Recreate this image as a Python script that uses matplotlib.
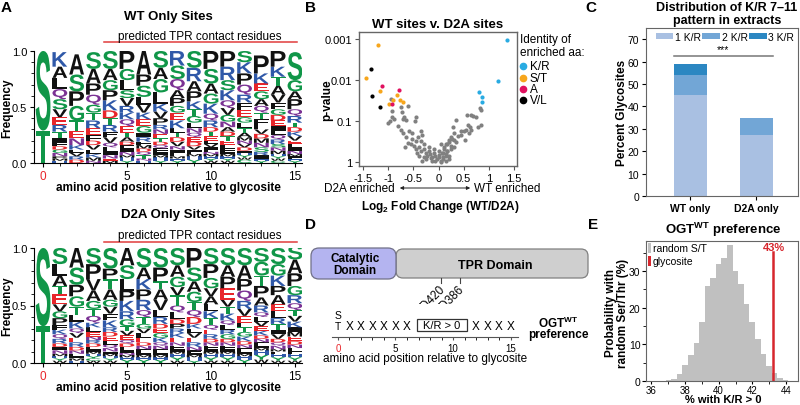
import numpy as np
import matplotlib
matplotlib.use('Agg')
import matplotlib.pyplot as plt
from matplotlib.textpath import TextPath
from matplotlib.font_manager import FontProperties
from matplotlib.patches import PathPatch, Rectangle, FancyBboxPatch, FancyArrowPatch
from matplotlib.transforms import Affine2D, blended_transform_factory
from matplotlib.lines import Line2D
from matplotlib.ticker import NullLocator, FixedLocator, MultipleLocator

plt.rcParams['font.family'] = ['Liberation Sans', 'DejaVu Sans']
plt.rcParams['mathtext.fontset'] = 'custom'
plt.rcParams['mathtext.rm'] = 'Liberation Sans'
plt.rcParams['mathtext.bf'] = 'Liberation Sans:bold'
plt.rcParams['axes.linewidth'] = 0.8

# ---------------- data ----------------
# sequence logos: letters listed top -> bottom with their frequencies
wt_letters = [
    "ST",
    "KALQSVERTIFDGNPMH",
    "ASPGTENKLVRD",
    "SAPQGTREFDVLKMN",
    "SAGPKDTRFVQLINEM",
    "PGLSVRKQETADFINMHY",
    "APSLVKEGIRFMDQTNH",
    "SAGLKVPRNETDQFIMHY",
    "RSQAPGEKLTDVNIFMHY",
    "SRAPKTGLNQEDVIFMHY",
    "PSAGKQRDTELVIFNMHYW",
    "PRSKQVGNADTELFIMHYW",
    "SKPQRFEGLTAMNVDIHYWC",
    "PKEGAQTFLVDMNSRIHY",
    "PKTAVFGDEILQRSNMHYWC",
    "SGAPQRTDKVELINMFHY",
]
wt_freqs = [
    [.71, .29],
    [.13, .10, .10, .09, .09, .07, .07, .06, .06, .04, .03, .03, .03, .03, .02, .02, .02],
    [.18, .15, .13, .13, .09, .07, .06, .04, .03, .03, .03, .03],
    [.15, .13, .10, .09, .07, .07, .07, .06, .05, .04, .04, .04, .03, .03, .02],
    [.16, .10, .09, .09, .09, .07, .06, .06, .05, .05, .04, .04, .03, .03, .02, .02],
    [.16, .10, .09, .07, .07, .06, .06, .06, .06, .04, .04, .03, .03, .03, .03, .02, .03, .02],
    [.21, .10, .10, .07, .07, .06, .06, .06, .04, .04, .03, .03, .03, .03, .03, .02, .02],
    [.15, .10, .12, .10, .07, .06, .06, .04, .04, .04, .03, .03, .03, .03, .03, .02, .03, .02],
    [.13, .12, .10, .07, .07, .06, .07, .07, .04, .04, .04, .04, .03, .03, .03, .02, .02, .02],
    [.15, .12, .09, .09, .07, .06, .06, .05, .04, .04, .04, .04, .03, .02, .02, .02, .03, .03],
    [.16, .13, .09, .09, .09, .06, .06, .04, .04, .04, .03, .03, .02, .02, .02, .02, .02, .02, .02],
    [.14, .12, .09, .09, .07, .06, .06, .05, .04, .04, .04, .04, .03, .03, .02, .02, .02, .02, .02],
    [.10, .10, .10, .09, .07, .07, .06, .05, .05, .04, .04, .03, .03, .03, .03, .02, .02, .02, .02, .03],
    [.16, .09, .07, .07, .06, .06, .06, .05, .04, .04, .04, .04, .04, .04, .03, .03, .02, .02],
    [.14, .09, .08, .08, .07, .06, .05, .05, .05, .04, .04, .04, .04, .03, .03, .03, .02, .02, .02, .02],
    [.25, .10, .07, .09, .06, .06, .04, .04, .04, .04, .03, .03, .03, .03, .02, .02, .02, .02],
]
d2a_letters = [
    "ST",
    "SLATEVGPFKQRDINMHYW",
    "ASPGTLKQVERDNFIMH",
    "SPVAGTQKLENRDFIMHYCW",
    "SPTAGVFKRDELQNIMHYW",
    "ASLPKRGTVEQDFINMHY",
    "SAKPRQTGVLEDNFIMHY",
    "SPTAVLRDEGKQNFIMHY",
    "SAGVTQLDPRKENFIMHYW",
    "PSAGTQDKLVERNFIMHY",
    "SPGVALKTQERDNFIMHYW",
    "SAPEVTKQLRGDNFIMHYW",
    "SAPQRVELTGKDNFIMHY",
    "SGTPARQLVEKDNFIMHYW",
    "SGKPAELRTIVDQNMFHYW",
    "SAPGRQTVKIMEDNLFHYW",
]
d2a_freqs = [
    [.68, .32],
    [.14, .10, .09, .07, .09, .06, .06, .06, .04, .04, .04, .04, .03, .03, .03, .02, .02, .02, .02],
    [.17, .15, .10, .09, .07, .06, .06, .04, .04, .04, .04, .03, .03, .02, .02, .02, .02],
    [.14, .13, .10, .09, .07, .06, .06, .04, .04, .04, .03, .03, .03, .02, .02, .02, .02, .02, .02, .02],
    [.18, .09, .09, .09, .06, .06, .06, .06, .04, .04, .04, .03, .03, .03, .02, .02, .02, .02, .02],
    [.15, .12, .10, .09, .09, .07, .06, .04, .04, .04, .03, .03, .03, .02, .02, .02, .02, .03],
    [.17, .10, .09, .09, .09, .06, .06, .04, .04, .04, .04, .03, .03, .03, .02, .02, .02, .03],
    [.17, .12, .07, .09, .09, .06, .06, .04, .04, .04, .04, .03, .03, .03, .02, .02, .02, .03],
    [.15, .10, .09, .07, .09, .06, .06, .04, .04, .04, .04, .04, .03, .03, .02, .02, .03, .03, .02],
    [.17, .12, .09, .09, .07, .06, .06, .04, .04, .04, .04, .04, .03, .02, .02, .02, .03, .02],
    [.14, .12, .09, .07, .07, .06, .06, .06, .04, .04, .04, .03, .03, .03, .02, .02, .03, .03, .02],
    [.15, .10, .10, .10, .06, .06, .06, .04, .04, .04, .04, .03, .03, .03, .02, .02, .03, .03, .02],
    [.15, .12, .10, .09, .07, .06, .06, .04, .04, .04, .04, .03, .03, .03, .02, .02, .03, .03],
    [.12, .12, .09, .10, .07, .06, .04, .04, .04, .04, .04, .03, .03, .03, .02, .02, .04, .04, .03],
    [.14, .10, .09, .08, .08, .06, .06, .05, .05, .04, .04, .03, .03, .03, .02, .02, .03, .03, .02],
    [.12, .12, .11, .08, .07, .06, .05, .05, .05, .04, .04, .04, .03, .03, .03, .02, .03, .03, .02],
]

# volcano plot: log2 fold change and -log10(p)
gray_fc = [-0.60, -0.95, -0.92, -0.75, -0.72, -0.93, -0.89, -0.96, -1.01, -0.69, -0.71, -0.65,
           -0.44, -0.47, -0.80, -0.75, -0.71, -0.59, -0.52, -0.35, -0.32, -0.40, -0.65, -0.60,
           -0.55, -0.49, -0.67, -0.32,
           -0.45, -0.39, -0.35, -0.29, -0.25, -0.19, -0.16, -0.09, -0.06, 0.01, 0.08, 0.14,
           0.17, 0.11, 0.04, 0.14, 0.21, -0.22, -0.12, -0.02, 0.08, -0.25, -0.39, -0.29,
           -0.35, -0.45, -0.52, -0.19, -0.09, 0.01, -0.12, 0.04, -0.06, 0.14, -0.28, -0.15,
           0.00, 0.20, -0.42, 0.25,
           0.82, 0.85, 0.57, 0.64, 0.69, 0.75, 0.34, 0.29, 0.59, 0.63, 0.84, 0.79, 0.44, 0.51,
           0.55, 0.61, 0.64, 0.31, 0.24, 0.27, 0.21, 0.31, 0.34, 0.53, 0.16, 0.24, 0.31, 0.11,
           0.17, 0.06, 0.14, 0.21, 0.09, 0.04, 0.38, 0.45]
gray_nlp = [1.37, 1.53, 1.24, 1.33, 1.20, 1.10, 1.04, 0.98, 0.94, 1.10, 1.04, 1.01,
            1.08, 1.00, 0.86, 0.78, 0.70, 0.75, 0.70, 0.74, 0.65, 0.61, 0.59, 0.45,
            0.43, 0.38, 0.35, 0.02,
            0.30, 0.35, 0.26, 0.30, 0.22, 0.26, 0.18, 0.20, 0.14, 0.16, 0.20, 0.14,
            0.25, 0.35, 0.43, 0.43, 0.47, 0.14, 0.10, 0.06, 0.06, 0.06, 0.14, 0.43,
            0.51, 0.51, 0.55, 0.35, 0.30, 0.26, 0.02, -0.02, 0.02, 0.02, 0.10, 0.08,
            0.10, 0.06, 0.22, 0.30,
            1.31, 1.26, 1.14, 1.14, 1.12, 1.10, 1.01, 0.85, 0.90, 0.85, 0.90, 0.84, 0.75, 0.75,
            0.77, 0.71, 0.77, 0.69, 0.61, 0.55, 0.52, 0.52, 0.47, 0.52, 0.44, 0.38, 0.35, 0.30,
            0.26, 0.22, 0.18, 0.14, 0.10, 0.02, 0.62, 0.64]
kr_fc = [1.36, 1.18, 0.81, 0.87, 0.87]
kr_nlp = [2.98, 1.98, 1.69, 1.57, 1.45]
st_fc = [-1.20, -1.45, -1.16, -0.83, -0.90, -0.77, -0.70, -0.98]
st_nlp = [2.86, 2.05, 1.73, 1.63, 1.50, 1.50, 1.45, 1.41]
a_fc = [-1.12, -0.79, -0.92]
a_nlp = [1.84, 1.75, 1.41]
vl_fc = [-1.35, -1.33, -1.16]
vl_nlp = [2.27, 1.60, 1.34]

# stacked bars (percent glycosites)
bar_groups = ['WT only', 'D2A only']
kr1 = [45.0, 27.3]
kr2 = [9.0, 7.3]
kr3 = [5.0, 0.0]

# histogram of random S/T
hist_left = [36.87, 37.20, 37.53, 37.86, 38.19, 38.52, 38.85, 39.18, 39.51, 39.84, 40.17,
             40.50, 40.83, 41.16, 41.49, 41.82, 42.15, 42.48, 42.81, 43.14, 43.47, 43.80]
hist_height = [0.2, 0.6, 2.0, 4.5, 7.0, 10.5, 16.0, 26.0, 28.0, 32.0, 33.5,
               37.0, 30.0, 26.4, 21.0, 16.0, 11.5, 7.5, 4.0, 2.3, 0.8, 0.2]
glycosite_pct = 43.2

# motif schematic
x_before = [1, 2, 3, 4, 5, 6]
x_after = [12, 13, 14, 15]
kr_window = (6.87, 11.2)

# ---------------- style ----------------
GREEN, BLUE, RED, PURPLE, BLACK = '#109648', '#2f58a8', '#e8262b', '#7b3294', '#111111'


def aa_color(ch):
    if ch in 'STGYC':
        return GREEN
    if ch in 'KRH':
        return BLUE
    if ch in 'DE':
        return RED
    if ch in 'QN':
        return PURPLE
    return BLACK


W, H = 800, 406
fig = plt.figure(figsize=(W / 100, H / 100), dpi=100)


def add_ax(x0, y0, x1, y1):
    return fig.add_axes([x0 / W, 1 - y1 / H, (x1 - x0) / W, (y1 - y0) / H])


def ftext(x, y, s, **kw):
    kw.setdefault('ha', 'center')
    kw.setdefault('va', 'center')
    return fig.text(x / W, 1 - y / H, s, **kw)


glyph_font = FontProperties(family='Liberation Sans', weight='bold')
glyph_cache = {}


def draw_logo(ax, letters, freqs, width=0.88):
    for pos, (seq, fr) in enumerate(zip(letters, freqs)):
        y = 0.0
        for ch, f in reversed(list(zip(seq, fr))):
            if ch not in glyph_cache:
                p = TextPath((0, 0), ch, size=1, prop=glyph_font)
                glyph_cache[ch] = (p, p.get_extents())
            p, ext = glyph_cache[ch]
            t = (Affine2D().translate(-ext.x0, -ext.y0)
                 .scale(width / ext.width, f / ext.height)
                 .translate(pos - width / 2, y))
            ax.add_patch(PathPatch(t.transform_path(p), fc=aa_color(ch), ec='none', lw=0))
            y += f


def style_logo_axes(ax):
    ax.set_xlim(-0.54, 15.42)
    ax.set_ylim(0, 1)
    for s in ['top', 'right']:
        ax.spines[s].set_visible(False)
    ax.set_xticks([0, 5, 10, 15])
    ax.set_xticklabels(['0', '5', '10', '15'])
    ax.xaxis.set_minor_locator(FixedLocator(range(16)))
    ax.set_yticks([0, 0.5, 1.0])
    ax.set_yticklabels(['0.0', '0.5', '1.0'])
    ax.yaxis.set_minor_locator(MultipleLocator(0.1))
    ax.tick_params(labelsize=8.5, length=3, width=0.8, pad=2)
    ax.tick_params(axis='y', labelsize=8)
    ax.tick_params(which='minor', length=2, width=0.6)
    ax.get_xticklabels()[0].set_color(RED)


# ---------------- panel A ----------------
logo_panels = [(52, 164, 17, 37, 43, 188, 'WT Only Sites', wt_letters, wt_freqs),
               (249, 364, 215, 236, 243, 388, 'D2A Only Sites', d2a_letters, d2a_freqs)]
for top, bot, ty, py, ly, xy, title, letters, freqs in logo_panels:
    ax = add_ax(34, top, 302, bot)
    draw_logo(ax, letters, freqs)
    style_logo_axes(ax)
    ftext(168, ty, title, fontsize=9.5, fontweight='bold')
    ftext(200, py, 'predicted TPR contact residues', fontsize=8.5)
    tr = blended_transform_factory(ax.transData, fig.transFigure)
    ax.plot([3.6, 15.1], [1 - ly / H] * 2, color='#e03c3c', lw=1.1, transform=tr, clip_on=False)
    ftext(168, xy, 'amino acid position relative to glycosite', fontsize=8.5, fontweight='bold')
    ftext(7, (top + bot) / 2, 'Frequency', fontsize=8.5, fontweight='bold', rotation=90)

# ---------------- panel B ----------------
axb = add_ax(359, 33, 517, 167)
to_p = lambda v: 10.0 ** (-np.asarray(v))
axb.scatter(gray_fc, to_p(gray_nlp), s=9, color='#808080', lw=0)
axb.scatter(kr_fc, to_p(kr_nlp), s=9, color='#29abe2', lw=0)
axb.scatter(st_fc, to_p(st_nlp), s=9, color='#f7a61c', lw=0)
axb.scatter(a_fc, to_p(a_nlp), s=9, color='#e0115f', lw=0)
axb.scatter(vl_fc, to_p(vl_nlp), s=9, color='black', lw=0)
axb.set_yscale('log')
axb.set_ylim(10 ** 0.11, 10 ** -3.17)
axb.set_xlim(-1.58, 1.56)
axb.set_yticks([1e-3, 1e-2, 1e-1, 1])
axb.set_yticklabels(['0.001', '0.01', '0.1', '1'])
axb.yaxis.set_minor_locator(NullLocator())
axb.set_xticks([-1.5, -1, -0.5, 0, 0.5, 1, 1.5])
axb.set_xticklabels(['-1.5', '-1', '-0.5', '0', '0.5', '1', '1.5'])
axb.tick_params(labelsize=8, length=3, pad=2, color='#555555')
for s in axb.spines.values():
    s.set_color('#666666')
    s.set_linewidth(1.0)
ftext(438, 25, 'WT sites v. D2A sites', fontsize=9.5, fontweight='bold')
ftext(327, 100, 'p-value', fontsize=8.5, fontweight='bold', rotation=90)
ftext(395, 189, 'D2A enriched', fontsize=8.5, ha='right')
ftext(474, 189, 'WT enriched', fontsize=8.5, ha='left')
fig.add_artist(FancyArrowPatch((397 / W, 1 - 189 / H), (473 / W, 1 - 189 / H),
                               arrowstyle='<|-|>', mutation_scale=5, lw=0.7,
                               color='#222222', transform=fig.transFigure))
ftext(440, 207, r'Log$_\mathbf{2}$ Fold Change (WT/D2A)', fontsize=8.5, fontweight='bold')
ftext(520, 40, 'Identity of', fontsize=8.5, ha='left')
ftext(520, 53, 'enriched aa:', fontsize=8.5, ha='left')
leg_items = [('K/R', '#29abe2', 67), ('S/T', '#f7a61c', 79), ('A', '#e0115f', 90), ('V/L', 'black', 101)]
for lab, col, yy in leg_items:
    fig.add_artist(Line2D([523 / W], [1 - yy / H], marker='o', ms=4.5, color=col, lw=0,
                          transform=fig.transFigure))
    ftext(530, yy, lab, fontsize=8.5, ha='left')

# ---------------- panel C ----------------
axc = add_ax(646, 29, 798, 197)
xc = np.arange(len(bar_groups))
c1, c2, c3 = '#a9c0e2', '#72a6d6', '#2b87c2'
axc.bar(xc, kr1, 0.5, color=c1, label='1 K/R')
axc.bar(xc, kr2, 0.5, bottom=kr1, color=c2, label='2 K/R')
axc.bar(xc, kr3, 0.5, bottom=np.add(kr1, kr2), color=c3, label='3 K/R')
axc.set_xlim(-0.67, 1.63)
axc.set_ylim(0, 75)
axc.set_yticks(range(0, 80, 10))
axc.set_xticks(xc)
axc.set_xticklabels(bar_groups, fontsize=8.5, fontweight='bold')
axc.tick_params(labelsize=7.5, length=3, pad=2)
for s in axc.spines.values():
    s.set_color('#666666')
axc.plot([-0.25, 1.25], [62.4, 62.4], color='#777777', lw=1.1)
axc.text(0.5, 63.2, '***', ha='center', va='bottom', fontsize=7.5)
axc.legend(loc='upper right', bbox_to_anchor=(1.0, 1.0), ncol=3, fontsize=7.5,
           handlelength=1.7, handleheight=0.55, handletextpad=0.15, columnspacing=0.15,
           borderaxespad=0.15, borderpad=0.2, frameon=False)
ftext(727, 8, 'Distribution of K/R 7\u201311', fontsize=9, fontweight='bold')
ftext(727, 21, 'pattern in extracts', fontsize=9, fontweight='bold')
ftext(622, 113, 'Percent Glycosites', fontsize=8.5, fontweight='bold', rotation=90)

# ---------------- panel D ----------------
axd = add_ax(300, 215, 600, 370)
axd.set_xlim(300, 600)
axd.set_ylim(370, 215)
axd.axis('off')
axd.add_patch(FancyBboxPatch((396, 250), 192, 29, boxstyle='round,pad=0,rounding_size=7',
                             fc='#cfcfcf', ec='#808080', lw=0.9))
axd.add_patch(FancyBboxPatch((311, 249), 85, 31, boxstyle='round,pad=0,rounding_size=8',
                             fc='#b4b4f0', ec='#707088', lw=0.9))
axd.text(355, 265, 'Catalytic\nDomain', ha='center', va='center', fontsize=8.5,
         fontweight='bold', linespacing=1.0)
axd.text(495, 266, 'TPR Domain', ha='center', va='center', fontsize=9, fontweight='bold')
for xx, lab in [(441, 'D420'), (460, 'D386')]:
    axd.plot([xx, xx], [279, 284], color='#444444', lw=0.8)
    axd.text(xx + 2, 288, lab, rotation=45, rotation_mode='anchor', ha='right', va='center',
             fontsize=8.5)

axs = add_ax(332, 305, 518, 338)
axs.set_xlim(-0.52, 15.65)
axs.set_ylim(0, 1)
for s in ['top', 'right', 'left']:
    axs.spines[s].set_visible(False)
axs.spines['bottom'].set_color('#555555')
axs.set_yticks([])
axs.set_xticks([0, 5, 10, 15])
axs.set_xticklabels(['0', '5', '10', '15'])
axs.xaxis.set_minor_locator(FixedLocator(range(16)))
axs.tick_params(labelsize=7, length=2.5, pad=1.5, color='#555555')
axs.tick_params(which='minor', length=2)
axs.get_xticklabels()[0].set_color(RED)
axs.text(0, 0.66, 'S', ha='center', va='center', fontsize=7.5)
axs.text(0, 0.34, 'T', ha='center', va='center', fontsize=7.5)
for xx in x_before + x_after:
    axs.text(xx, 0.34, 'X', ha='center', va='center', fontsize=8.5)
axs.add_patch(Rectangle((kr_window[0], 0.18), kr_window[1] - kr_window[0], 0.37,
                        fc='none', ec='#333333', lw=0.9))
axs.text(np.mean(kr_window), 0.37, 'K/R > 0', ha='center', va='center', fontsize=8)
ftext(425, 359, 'amino acid position relative to glycosite', fontsize=8.5)
ftext(558, 323, r'OGT$^{\mathbf{WT}}$', fontsize=8.5, fontweight='bold')
ftext(558, 335, 'preference', fontsize=8.5, fontweight='bold')

# ---------------- panel E ----------------
axe = add_ax(646, 242, 798, 382)
axe.bar(hist_left, hist_height, width=0.33, align='edge', color='#c0c0c0', lw=0)
axe.plot([glycosite_pct, glycosite_pct], [0, 35.1], color='#d7262d', lw=1.8)
axe.text(glycosite_pct + 0.1, 36.6, '43%', color='#d7262d', fontsize=8, fontweight='bold',
         ha='center', va='center')
axe.set_xlim(35.7, 44.7)
axe.set_ylim(0, 38.2)
axe.set_xticks(range(36, 45, 2))
axe.xaxis.set_minor_locator(MultipleLocator(1))
axe.set_yticks([0, 10, 20, 30])
axe.yaxis.set_minor_locator(MultipleLocator(5))
axe.tick_params(labelsize=7.5, length=3, pad=1)
axe.tick_params(axis='x', labelsize=7, length=2.5, pad=0.5)
axe.tick_params(which='minor', length=2)
for s in axe.spines.values():
    s.set_color('#666666')
axe.add_patch(Rectangle((0.012, 0.915), 0.018, 0.07, transform=axe.transAxes, fc='#c0c0c0', lw=0))
axe.text(0.045, 0.95, 'random S/T', transform=axe.transAxes, fontsize=7.5, va='center')
axe.add_patch(Rectangle((0.012, 0.82), 0.018, 0.07, transform=axe.transAxes, fc='#d7262d', lw=0))
axe.text(0.045, 0.855, 'glycosite', transform=axe.transAxes, fontsize=7.5, va='center')
ftext(723, 230, r'OGT$^{\mathbf{WT}}$ preference', fontsize=9.5, fontweight='bold')
ftext(723, 405.5, '% with K/R > 0', fontsize=8, fontweight='bold', va='bottom')
ftext(617, 313, 'Probability with\nrandom Ser/Thr (%)', fontsize=8.5, fontweight='bold',
      rotation=90, linespacing=1.05)

# panel letters
for lab, x, y in [('A', 6, 8), ('B', 311, 8), ('C', 591, 8), ('D', 311, 225), ('E', 593, 225)]:
    ftext(x, y, lab, fontsize=11, fontweight='bold')

fig.savefig('out.png', dpi=100)
plt.close(fig)
